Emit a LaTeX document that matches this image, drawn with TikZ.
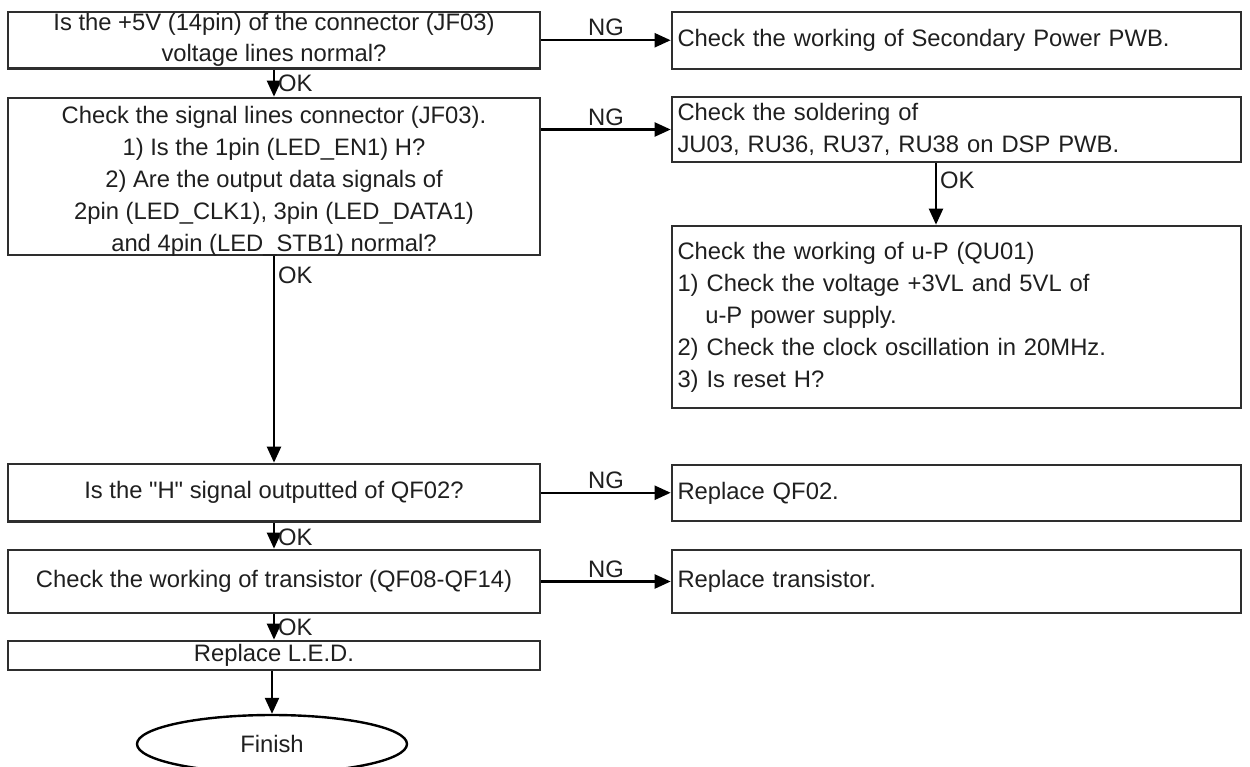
\documentclass[tikz,border=0pt]{standalone}
\usepackage{fontspec}
\newfontfamily\lsans{Liberation Sans}
\usetikzlibrary{arrows.meta,shapes.geometric,calc}
\begin{document}
\begin{tikzpicture}[x=0.5pt,y=-0.5pt,
  every node/.style={font=\lsans\fontsize{11.9}{16}\selectfont, text=black!88},
  lbox/.style={draw=black!82, line width=1.35pt, rectangle, minimum width=266pt, inner sep=0pt, align=center},
  rbox/.style={draw=black!82, line width=1.35pt, rectangle, minimum width=284.5pt, text width=279pt, inner xsep=2.5pt, inner ysep=0pt, align=left},
  arr/.style={line width=1.15pt, -{Triangle[length=8pt,width=7pt]}},
  lab/.style={font=\lsans\fontsize{11.9}{14}\selectfont, inner sep=1.5pt},
]
\useasboundingbox (0,0) rectangle (1250,767);

% left column
\node[lbox, minimum height=28.25pt] (a) at (274,40.25)
  {Is the +5V (14pin) of the connector (JF03)\\[-0.5pt]voltage lines normal?};
\node[lbox, minimum height=78.5pt] (b) at (274,176.5) {};
\node[align=center, inner sep=0pt] (btext) at ([yshift=-2.5pt]b.center)
  {Check the signal lines connector (JF03).\\
   1) Is the 1pin (LED\_EN1) H?\\
   2) Are the output data signals of\\
   2pin (LED\_CLK1), 3pin (LED\_DATA1)\\
   and 4pin (LED\_STB1) normal?};
\node[lbox, minimum height=28.75pt] (f) at (274,492.75)
  {Is the "H" signal outputted of QF02?};
\node[lbox, minimum height=31.5pt] (g) at (274,581.5)
  {Check the working of transistor (QF08-QF14)};
\node[lbox, minimum height=14.5pt] (h) at (274,655.5)
  {Replace L.E.D.};
\node[ellipse, draw=black, line width=1.2pt, minimum width=135pt, minimum height=29pt, inner sep=0pt] (fin) at (272,744)
  {Finish};

% right column
\node[rbox, minimum height=28.5pt] (r1) at (956.5,40.5)
  {Check the working of Secondary Power PWB.};
\node[rbox, minimum height=32.5pt] (r2) at (956.5,129.5)
  {Check the soldering of\\JU03, RU36, RU37, RU38 on DSP PWB.};
\node[rbox, minimum height=91pt] (r3) at (956.5,317)
  {Check the working of u-P (QU01)\\
   1) Check the voltage +3VL and 5VL of\\
   \hspace*{13.9pt}u-P power supply.\\
   2) Check the clock oscillation in 20MHz.\\
   3) Is reset H?};
\node[rbox, minimum height=28pt] (r4) at (956.5,493)
  {Replace QF02.};
\node[rbox, minimum height=31.5pt] (r5) at (956.5,581.5)
  {Replace transistor.};

% vertical connectors
\draw[arr] (a) -- node[pos=.5, right, lab] {OK} (b);
\draw[arr] (b) -- node[pos=.09, right, lab] {OK} (f);
\draw[arr] (f) -- node[pos=.55, right, lab] {OK} (g);
\draw[arr] (g) -- node[pos=.53, right, lab] {OK} (h);
\draw[arr] (h.south -| fin.north) -- (fin);
\draw[arr] ([xshift=-10.25pt]r2.south) -- node[pos=.27, right, lab] {OK} ([xshift=-10.25pt]r3.north);

% NG connectors
\draw[arr] (a.east) -- node[above, lab] {NG} (a.east -| r1.west);
\draw[arr] (b.east |- r2.west) -- node[above, lab] {NG} (r2.west);
\draw[arr] (f.east) -- node[above, lab] {NG} (f.east -| r4.west);
\draw[arr] (g.east) -- node[above, lab] {NG} (g.east -| r5.west);
\end{tikzpicture}
\end{document}
